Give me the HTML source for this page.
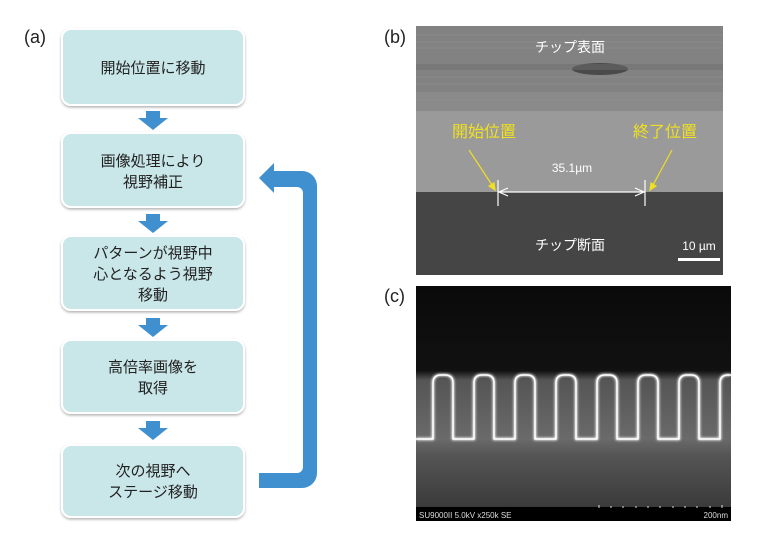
<!DOCTYPE html>
<html><head><meta charset="utf-8"><style>
body{margin:0;background:#fff;}
svg{display:block;}
text{font-family:"Liberation Sans","Noto Sans CJK JP",sans-serif;}
</style></head><body>
<svg width="757" height="548" viewBox="0 0 757 548" xmlns="http://www.w3.org/2000/svg">
<defs>
<filter id="sh" x="-10%" y="-10%" width="120%" height="130%"><feDropShadow dx="0" dy="1.5" stdDeviation="1.2" flood-color="#000" flood-opacity="0.3"/></filter>
<linearGradient id="cb" x1="0" y1="0" x2="0" y2="1">
<stop offset="0" stop-color="#0a0a0a"/><stop offset="0.36" stop-color="#111"/><stop offset="0.4" stop-color="#555"/><stop offset="0.65" stop-color="#6a6a6a"/><stop offset="0.72" stop-color="#555"/><stop offset="1" stop-color="#333"/></linearGradient>
<filter id="gl"><feGaussianBlur stdDeviation="1.2"/></filter>
</defs>
<text x="24" y="43" font-size="18" fill="#222">(a)</text>
<g font-size="15" fill="#222" text-anchor="middle">
<rect x="62" y="29" width="182" height="76" rx="9" fill="#c9e6e8" stroke="#fff" stroke-width="2" filter="url(#sh)"/>
<text x="153" y="73">開始位置に移動</text>
<rect x="62" y="133" width="182" height="74" rx="9" fill="#c9e6e8" stroke="#fff" stroke-width="2" filter="url(#sh)"/>
<text x="153" y="166">画像処理により</text><text x="153" y="187">視野補正</text>
<rect x="62" y="236" width="182" height="74" rx="9" fill="#c9e6e8" stroke="#fff" stroke-width="2" filter="url(#sh)"/>
<text x="153" y="258">パターンが視野中</text><text x="153" y="279">心となるよう視野</text><text x="153" y="300">移動</text>
<rect x="62" y="340" width="182" height="73" rx="9" fill="#c9e6e8" stroke="#fff" stroke-width="2" filter="url(#sh)"/>
<text x="153" y="372">高倍率画像を</text><text x="153" y="393">取得</text>
<rect x="62" y="445" width="182" height="72" rx="9" fill="#c9e6e8" stroke="#fff" stroke-width="2" filter="url(#sh)"/>
<text x="153" y="476">次の視野へ</text><text x="153" y="497">ステージ移動</text>
</g>
<g fill="#4090d0">
<path d="M146 111h14v7h8l-15 12l-15-12h8z"/>
<path d="M146 214h14v7h8l-15 12l-15-12h8z"/>
<path d="M146 318h14v7h8l-15 12l-15-12h8z"/>
<path d="M146 421h14v7h8l-15 12l-15-12h8z"/>
<path d="M259 473h38a6 6 0 0 0 6-6V193a6 6 0 0 0-6-6h-23v6l-15-15l15-15v8h28a15 15 0 0 1 15 15V473a15 15 0 0 1-15 15h-43z"/>
</g>
<text x="384" y="43" font-size="18" fill="#222">(b)</text>
<rect x="416" y="26" width="307" height="166" fill="#8a8a8a"/>
<rect x="416" y="26" width="307" height="66" fill="#828282"/>
<g stroke="#9a9a9a" stroke-width="0.6" opacity="0.6"><path d="M416 35H723M416 42H723M416 48H723M416 77H723M416 84H723M416 100H723"/></g>
<ellipse cx="600" cy="69" rx="28" ry="6" fill="#4a4a4a"/>
<rect x="416" y="64" width="307" height="6" fill="#6e6e6e" opacity="0.5"/>
<rect x="416" y="111" width="307" height="81" fill="#9a9a9a"/>
<rect x="416" y="192" width="307" height="83" fill="#454545"/>
<g font-size="14" fill="#fff" text-anchor="middle"><text x="570" y="52">チップ表面</text><text x="570" y="250">チップ断面</text></g>
<g font-size="16" fill="#f0e020" text-anchor="middle"><text x="484" y="137">開始位置</text><text x="665" y="137">終了位置</text></g>
<g stroke="#f0e020" stroke-width="1.2" fill="#f0e020"><line x1="469" y1="150" x2="492" y2="185"/><line x1="672" y1="150" x2="653" y2="185"/>
<path d="M495 190l-6-4l5-3z" /><path d="M650 190l1-7l5 3z"/></g>
<g stroke="#fff" stroke-width="1.2" fill="none"><line x1="498" y1="180" x2="498" y2="206"/><line x1="645" y1="180" x2="645" y2="206"/><line x1="499" y1="192" x2="644" y2="192"/><path d="M508 188l-9 4l9 4M635 188l9 4l-9 4"/></g>
<text x="572" y="172" font-size="12" fill="#fff" text-anchor="middle">35.1µm</text>
<text x="699" y="250" font-size="12" fill="#fff" text-anchor="middle">10 µm</text>
<rect x="678" y="258" width="42" height="3" fill="#fff"/>
<text x="384" y="302" font-size="18" fill="#222">(c)</text>
<rect x="416" y="286" width="315" height="235" fill="url(#cb)"/>
<g fill="none" stroke="#fff" stroke-width="2.5" stroke-linejoin="round">
<path filter="url(#gl)" d="M416 439H433V383q0-8 8-8h4q8 0 8 8V439H474V383q0-8 8-8h4q8 0 8 8V439H515V383q0-8 8-8h4q8 0 8 8V439H556V383q0-8 8-8h4q8 0 8 8V439H597V383q0-8 8-8h4q8 0 8 8V439H638V383q0-8 8-8h4q8 0 8 8V439H679V383q0-8 8-8h4q8 0 8 8V439H720V383q0-8 8-8h3"/>
<path stroke-width="1.5" d="M416 439H433V383q0-8 8-8h4q8 0 8 8V439H474V383q0-8 8-8h4q8 0 8 8V439H515V383q0-8 8-8h4q8 0 8 8V439H556V383q0-8 8-8h4q8 0 8 8V439H597V383q0-8 8-8h4q8 0 8 8V439H638V383q0-8 8-8h4q8 0 8 8V439H679V383q0-8 8-8h4q8 0 8 8V439H720V383q0-8 8-8h3"/>
</g>
<rect x="416" y="507" width="315" height="14" fill="#000"/>
<text x="419" y="518" font-size="8" fill="#ddd">SU9000II 5.0kV x250k SE</text>
<text x="728" y="518" font-size="8" fill="#ddd" text-anchor="end">200nm</text>
<g stroke="#ddd" stroke-width="1"><path d="M599 505v3M611 506v2M623 506v2M636 506v2M648 506v2M660 506v2M673 506v2M685 506v2M697 506v2M710 506v2M722 505v3"/></g>
</svg>
</body></html>
